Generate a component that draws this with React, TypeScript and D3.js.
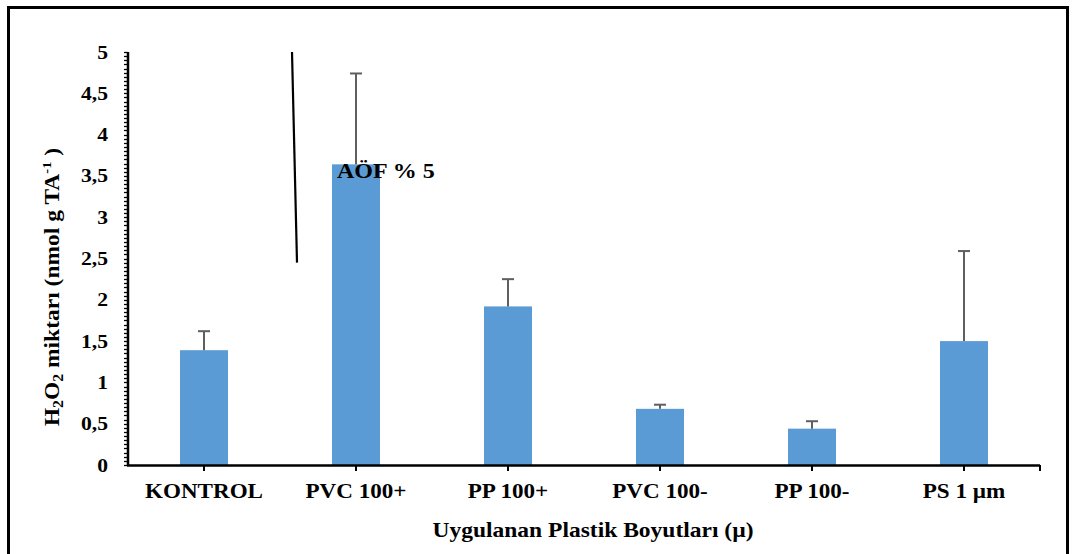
import * as d3 from "d3";
import React, { useEffect, useRef } from "react";

const categories = ["KONTROL", "PVC 100+", "PP 100+", "PVC 100-", "PP 100-", "PS 1 µm"];
const means = [1.39, 3.64, 1.92, 0.68, 0.44, 1.5];
const errUp = [0.23, 1.1, 0.33, 0.05, 0.09, 1.09];
const yMajor = [0, 0.5, 1, 1.5, 2, 2.5, 3, 3.5, 4, 4.5, 5];
const yLabels = ["0", "0,5", "1", "1,5", "2", "2,5", "3", "3,5", "4", "4,5", "5"];
const noteText = "AÖF % 5";
const notePoints = [
  { v: 5, dx: -64 },
  { v: 2.45, dx: -59 },
];

const FONT = "'Liberation Serif', 'Times New Roman', serif";
const BAR = "#5B9BD5";
const ERR = "#5f5f5f";

export default function App() {
  const ref = useRef<SVGSVGElement>(null);

  useEffect(() => {
    const svg = d3.select(ref.current);
    svg.selectAll("*").remove();

    const W = 1072;
    const H = 554;
    const left = 128;
    const right = 1040;
    const top = 52;
    const bottom = 465;

    svg.append("rect").attr("width", W).attr("height", H).attr("fill", "#fff");

    // outer frame
    svg
      .append("rect")
      .attr("x", 8.5)
      .attr("y", 7.5)
      .attr("width", 1059)
      .attr("height", 560)
      .attr("fill", "none")
      .attr("stroke", "#000")
      .attr("stroke-width", 3);

    const x = d3.scaleBand().domain(categories).range([left, right]).padding(0);
    const y = d3.scaleLinear().domain([0, 5]).range([bottom, top]);
    const barW = 48;

    const g = svg.append("g");

    // bars
    g.selectAll("rect.bar")
      .data(categories)
      .join("rect")
      .attr("class", "bar")
      .attr("x", (d) => x(d)! + x.bandwidth() / 2 - barW / 2)
      .attr("y", (d, i) => y(means[i]))
      .attr("width", barW)
      .attr("height", (d, i) => y(0) - y(means[i]))
      .attr("fill", BAR);

    // error bars (upper only)
    const eb = g.selectAll("g.err").data(categories).join("g").attr("class", "err");
    eb.append("line")
      .attr("x1", (d) => x(d)! + x.bandwidth() / 2)
      .attr("x2", (d) => x(d)! + x.bandwidth() / 2)
      .attr("y1", (d, i) => y(means[i]))
      .attr("y2", (d, i) => y(means[i] + errUp[i]))
      .attr("stroke", ERR)
      .attr("stroke-width", 2);
    eb.append("line")
      .attr("x1", (d) => x(d)! + x.bandwidth() / 2 - 6)
      .attr("x2", (d) => x(d)! + x.bandwidth() / 2 + 6)
      .attr("y1", (d, i) => y(means[i] + errUp[i]))
      .attr("y2", (d, i) => y(means[i] + errUp[i]))
      .attr("stroke", ERR)
      .attr("stroke-width", 2);

    // y axis: minor ticks every 0.05
    const minor = d3.range(0, 101).map((i) => i * 0.05);
    g.selectAll("line.ytick")
      .data(minor)
      .join("line")
      .attr("x1", left - 4)
      .attr("x2", left)
      .attr("y1", (d) => Math.round(y(d)) + 0.5)
      .attr("y2", (d) => Math.round(y(d)) + 0.5)
      .attr("stroke", "#000")
      .attr("stroke-width", 1.3);
    g.append("line")
      .attr("x1", left)
      .attr("x2", left)
      .attr("y1", top)
      .attr("y2", bottom + 1)
      .attr("stroke", "#000")
      .attr("stroke-width", 2.5);

    g.selectAll("text.ylab")
      .data(yMajor)
      .join("text")
      .attr("class", "ylab")
      .attr("transform", (d) => `translate(108,${y(d) + 6.5}) scale(1.2,1)`)
      .attr("text-anchor", "end")
      .attr("font-family", FONT)
      .attr("font-weight", "bold")
      .attr("font-size", 18)
      .text((d, i) => yLabels[i]);

    // x axis
    g.append("line")
      .attr("x1", left - 1)
      .attr("x2", right)
      .attr("y1", bottom + 0.5)
      .attr("y2", bottom + 0.5)
      .attr("stroke", "#000")
      .attr("stroke-width", 2.5);
    const xt = categories.map((d) => x(d)! + x.bandwidth() / 2).concat([right]);
    g.selectAll("line.xtick")
      .data(xt)
      .join("line")
      .attr("x1", (d) => d)
      .attr("x2", (d) => d)
      .attr("y1", bottom)
      .attr("y2", bottom + 6)
      .attr("stroke", "#000")
      .attr("stroke-width", 2);

    g.selectAll("text.xlab")
      .data(categories)
      .join("text")
      .attr("class", "xlab")
      .attr("transform", (d) => `translate(${x(d)! + x.bandwidth() / 2},498) scale(1.1,1)`)
      .attr("text-anchor", "middle")
      .attr("font-family", FONT)
      .attr("font-weight", "bold")
      .attr("font-size", 21)
      .text((d) => d);

    // x title
    svg
      .append("text")
      .attr("transform", "translate(593,537) scale(1.12,1)")
      .attr("text-anchor", "middle")
      .attr("font-family", FONT)
      .attr("font-weight", "bold")
      .attr("font-size", 21)
      .text("Uygulanan Plastik Boyutları (µ)");

    // y title
    const yt = svg
      .append("text")
      .attr("transform", "translate(59,287) rotate(-90) scale(1.12,1)")
      .attr("text-anchor", "middle")
      .attr("font-family", FONT)
      .attr("font-weight", "bold")
      .attr("font-size", 21);
    yt.append("tspan").text("H");
    yt.append("tspan").attr("font-size", 14).attr("dy", 4).text("2");
    yt.append("tspan").attr("dy", -4).text("O");
    yt.append("tspan").attr("font-size", 14).attr("dy", 4).text("2");
    yt.append("tspan").attr("dy", -4).text(" miktarı (nmol g TA");
    yt.append("tspan").attr("font-size", 13).attr("dy", -8).text("-1");
    yt.append("tspan").attr("dy", 8).text(" )");

    // annotation line and label
    const cx = x("PVC 100+")! + x.bandwidth() / 2;
    g.append("line")
      .attr("x1", cx + notePoints[0].dx)
      .attr("y1", y(notePoints[0].v))
      .attr("x2", cx + notePoints[1].dx)
      .attr("y2", y(notePoints[1].v))
      .attr("stroke", "#000")
      .attr("stroke-width", 2.2);
    g.append("text")
      .attr("transform", `translate(337,${y(means[1]) + 14}) scale(1.2,1)`)
      .attr("font-family", FONT)
      .attr("font-weight", "bold")
      .attr("font-size", 20)
      .text(noteText);
  }, []);

  return (
    <div style={{ position: "absolute", left: 0, top: 0 }}>
      <svg ref={ref} width={1072} height={554} style={{ display: "block" }} />
    </div>
  );
}
